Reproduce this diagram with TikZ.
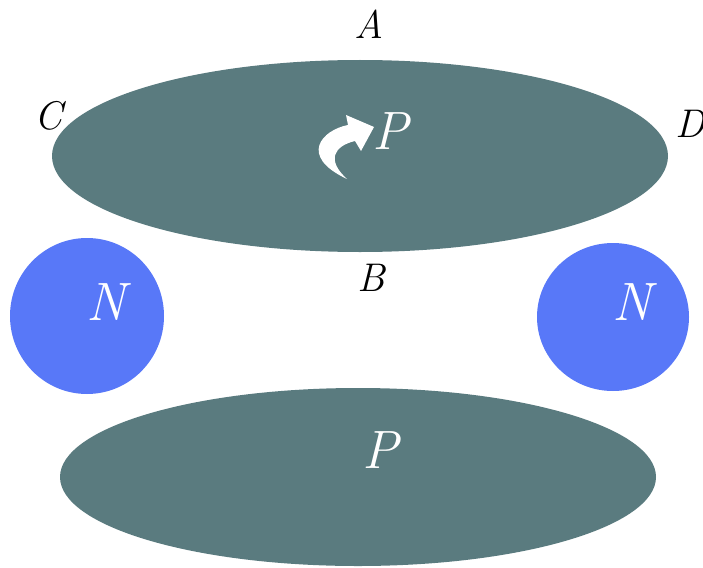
\documentclass[tikz,border=0pt]{standalone}
\usetikzlibrary{shapes.geometric}
\definecolor{teal1}{HTML}{5A7B7F}
\definecolor{blue1}{HTML}{5878F8}
\begin{document}
\begin{tikzpicture}[x=1pt,y=-1pt,
  blob/.style={ellipse,draw=none,inner sep=0pt,outer sep=0pt},
  blk/.style={font=\fontsize{40}{40}\selectfont\itshape,text=black,inner sep=0pt},
  wht/.style={font=\fontsize{54}{54}\selectfont\itshape,text=white,inner sep=0pt}]
\useasboundingbox (0,0) rectangle (703,567);
\node[blob,fill=teal1,minimum width=616pt,minimum height=192pt] (top) at (360,156) {};
\node[blob,fill=teal1,minimum width=596pt,minimum height=178pt] (bot) at (358,477) {};
\node[blob,fill=blue1,minimum width=154pt,minimum height=156pt] (nl) at (87,316) {};
\node[blob,fill=blue1,minimum width=152pt,minimum height=148pt] (nr) at (613,317) {};
\node[blk] (A) at (369,24) {A};
\node[blk] (B) at (371,278) {B};
\node[blk] (C) at (48,116) {C};
\node[blk] (D) at (690,124) {D};
\node[wht] (P1) at (390,131) {P};
\node[wht] (P2) at (380,450) {P};
\node[wht] (N1) at (106,302) {N};
\node[wht] (N2) at (632,302) {N};
\fill[white] (374,127) -- (346,115) -- (348,125)
  .. controls (322,130) and (298,156) .. (347,179)
  .. controls (326,160) and (334,146) .. (355,141)
  -- (361,151) -- cycle;
\end{tikzpicture}
\end{document}
